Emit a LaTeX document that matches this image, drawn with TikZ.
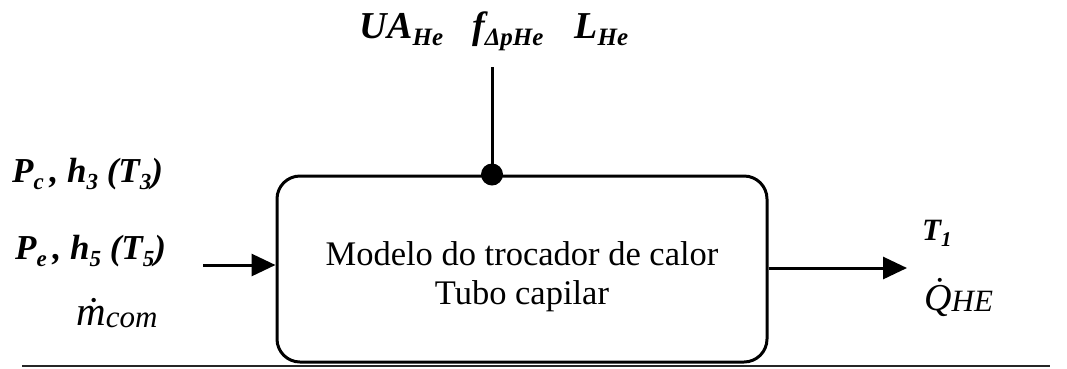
\documentclass[tikz,border=0pt]{standalone}
\usepackage{fontspec}
\setmainfont{Liberation Serif}
\usetikzlibrary{arrows.meta}
\newcommand{\bi}[1]{{\bfseries\itshape #1}}
\newcommand{\bsub}[2][23]{\raisebox{-0.2em}{\fontsize{#1}{#1}\selectfont\bfseries\itshape #2}}
\newcommand{\isub}[2][26]{\raisebox{-0.05em}{\fontsize{#1}{#1}\selectfont\itshape #2}}
\begin{document}
\begin{tikzpicture}[x=1pt,y=-1pt,
  lbl/.style={inner sep=0pt,anchor=base west,font=\fontsize{35}{38}\selectfont},
  conn/.style={line width=3pt},
  arr/.style={conn,-{Triangle[length=24pt,width=22pt]}}]
\useasboundingbox (0,0) rectangle (1067,368);
\node[draw,line width=3pt,rounded corners=23pt,minimum width=490pt,minimum height=186pt] (box) at (522,269) {};
\node[inner sep=0pt,anchor=base,align=center,font=\fontsize{34.5}{39}\selectfont] (txt) at (522,304) {Modelo do trocador de calor\\Tubo capilar};
\node[lbl,anchor=base,font=\fontsize{38}{40}\selectfont] (top) at (494,38) {\bi{UA}\bsub[25]{He}\hspace{29pt}\bi{f}\bsub[25]{ΔpHe}\hspace{31pt}\bi{L}\bsub[25]{He}};
\coordinate (tin) at (492,67);
\fill (tin |- box.north) circle (11pt);
\draw[conn] (tin) -- (tin |- box.north);
\node[lbl] (l1) at (12,182) {\bi{P}\bsub{c}\bi{\,, h}\bsub{3}\bi{ (T}\bsub{3}\bi{)}};
\node[lbl] (l2) at (15,259) {\bi{P}\bsub{e}\bi{\,, h}\bsub{5}\bi{ (T}\bsub{5}\bi{)}};
\node[lbl,font=\fontsize{41}{44}\selectfont] (l3) at (76,325) {\itshape \.{m}\isub[31]{com}};
\coordinate (ain) at (203,265);
\draw[arr] (ain) -- (box.west |- ain);
\coordinate (aout) at (907,268);
\draw[arr] (box.east |- aout) -- (aout);
\node[lbl,font=\fontsize{31}{33}\selectfont] (r1) at (922,240) {\bi{T}\bsub[21]{1}};
\node[lbl,font=\fontsize{38}{40}\selectfont] (r2) at (924,310) {\itshape \.{Q}\isub[31]{HE}};
\coordinate (b1) at (22,366);
\coordinate (b2) at (1050,366);
\draw[line width=2.2pt,black!85] (b1) -- (b2);
\end{tikzpicture}
\end{document}
